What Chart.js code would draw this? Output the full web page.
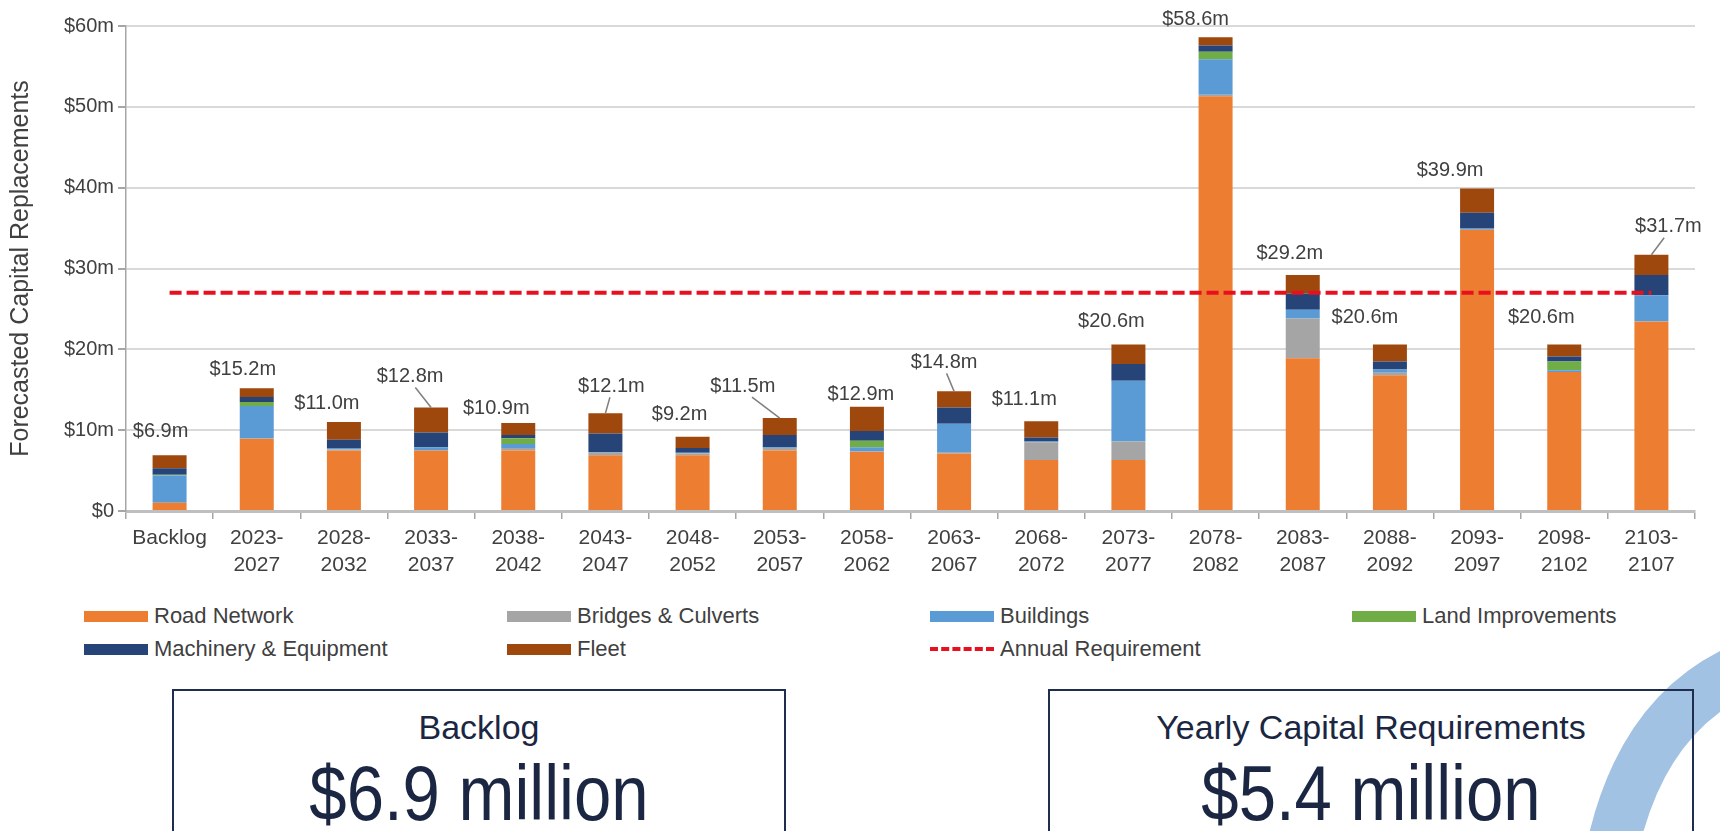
<!DOCTYPE html>
<html>
<head>
<meta charset="utf-8">
<script src="https://cdn.jsdelivr.net/npm/chart.js@4.4.0/dist/chart.umd.min.js"></script>
<style>
    html, body { margin: 0; padding: 0; background: #fff; overflow: hidden; }
    body { width: 1720px; height: 831px; position: relative; font-family: "Liberation Sans", Arial, sans-serif; }
    #chartWrap { position: absolute; left: 0; top: 0; width: 1720px; height: 600px; }
    #legend { position: absolute; left: 0; top: 600px; width: 1720px; height: 70px; }
    .lg-item { position: absolute; display: flex; align-items: center; font-size: 22px; color: #404040; white-space: nowrap; }
    .lg-swatch { width: 64px; height: 11px; margin-right: 6px; }
    .lg-dash { width: 64px; height: 0; border-top: 4px dashed #e8101e; margin-right: 6px; }
    #arc { position: absolute; left: 0; top: 0; }
    .box { position: absolute; top: 689px; height: 170px; border: 2px solid #1f2d4f; text-align: center; color: #1b2742; }
    .box .head { font-size: 34px; margin-top: 16px; line-height: 40px; }
    .box .big { font-size: 78px; line-height: 80px; margin-top: 6px; transform: scaleX(0.86); }
</style>
</head>
<body>
<svg id="arc" width="1720" height="831">
    <path d="M 1612 850 Q 1642 712 1745 668" stroke="#a2c2e3" stroke-width="52" fill="none"/>
</svg>
<div id="chartWrap"><canvas id="capChart" width="1720" height="600"></canvas></div>
<div id="legend"></div>
<div class="box" style="left:172px;width:610px;">
    <div class="head">Backlog</div>
    <div class="big">$6.9 million</div>
</div>
<div class="box" style="left:1048px;width:642px;">
    <div class="head">Yearly Capital Requirements</div>
    <div class="big">$5.4 million</div>
</div>
<script>
// five-year replacement buckets ($ millions)
const categories = ['Backlog', ['2023-', '2027'], ['2028-', '2032'], ['2033-', '2037'], ['2038-', '2042'],
    ['2043-', '2047'], ['2048-', '2052'], ['2053-', '2057'], ['2058-', '2062'], ['2063-', '2067'],
    ['2068-', '2072'], ['2073-', '2077'], ['2078-', '2082'], ['2083-', '2087'], ['2088-', '2092'],
    ['2093-', '2097'], ['2098-', '2102'], ['2103-', '2107']];

const roadNetwork      = [1.0, 8.9, 7.5, 7.5, 7.5, 6.9, 6.9, 7.5, 7.3, 7.1, 6.3, 6.3, 51.3, 18.9, 16.8, 34.8, 17.2, 23.4];
const bridgesCulverts  = [0.1, 0.1, 0.1, 0.0, 0.3, 0.3, 0.2, 0.3, 0.1, 0.1, 2.2, 2.3, 0.2, 4.9, 0.3, 0.0, 0.0, 0.1];
const buildings        = [3.3, 4.0, 0.2, 0.4, 0.5, 0.1, 0.1, 0.1, 0.5, 3.6, 0.1, 7.5, 4.4, 1.1, 0.4, 0.2, 0.2, 3.2];
const landImprovements = [0.1, 0.5, 0.0, 0.0, 0.7, 0.0, 0.0, 0.0, 0.8, 0.0, 0.0, 0.0, 0.9, 0.0, 0.0, 0.0, 1.1, 0.0];
const machineryEquip   = [0.8, 0.6, 1.0, 1.8, 0.4, 2.3, 0.6, 1.5, 1.2, 2.0, 0.5, 2.1, 0.8, 2.0, 1.0, 1.9, 0.6, 2.5];
const fleet            = [1.6, 1.1, 2.2, 3.1, 1.5, 2.5, 1.4, 2.1, 3.0, 2.0, 2.0, 2.4, 1.0, 2.3, 2.1, 3.0, 1.5, 2.5];
const annualRequirement = [27, 27, 27, 27, 27, 27, 27, 27, 27, 27, 27, 27, 27, 27, 27, 27, 27, 27];

const yTickLabels = ['$0', '$10m', '$20m', '$30m', '$40m', '$50m', '$60m'];

// where each total label sits relative to the top of its stack (px), and which ones get a pointer line
const labelOffsets = [[-9, -24], [-14, -19], [-17, -19], [-21, -31], [-22, -14], [6, -27], [-13, -22], [-37, -32], [-6, -12],
    [-10, -29], [-17, -22], [-17, -23], [-20, -18], [-13, -21], [-25, -27], [-27, -18], [-23, -27], [17, -28]];
const leaderLines = [3, 5, 7, 9, 17];

const FONT = '"Liberation Sans", Arial, sans-serif';

const totalLabels = {
    id: 'totalLabels',
    afterDatasetsDraw(chart) {
        const ctx = chart.ctx;
        const barSets = chart.data.datasets.filter(d => d.type !== 'line');
        const topMeta = chart.getDatasetMeta(barSets.length - 1);
        ctx.save();
        ctx.font = '20px ' + FONT;
        ctx.fillStyle = '#404040';
        ctx.textAlign = 'center';
        ctx.textBaseline = 'middle';
        categories.forEach((c, i) => {
            let total = 0;
            barSets.forEach(d => total += d.data[i]);
            const bar = topMeta.data[i];
            const lx = bar.x + labelOffsets[i][0], ly = bar.y + labelOffsets[i][1];
            ctx.fillText('$' + total.toFixed(1) + 'm', lx, ly);
            if (leaderLines.includes(i)) {
                ctx.strokeStyle = '#7f7f7f';
                ctx.lineWidth = 1.5;
                ctx.beginPath();
                ctx.moveTo(lx + (bar.x - lx) * 0.25, ly + 11);
                ctx.lineTo(bar.x, bar.y);
                ctx.stroke();
            }
        });
        ctx.restore();
    }
};

const barSet = (label, data, color) => ({
    label: label, data: data, backgroundColor: color, borderWidth: 0,
    stack: 'assets', order: 1, barPercentage: 0.39, categoryPercentage: 1
});

const myChart = new Chart(document.getElementById('capChart'), {
    type: 'bar',
    data: {
        labels: categories,
        datasets: [
            barSet('Road Network', roadNetwork, '#ed7d31'),
            barSet('Bridges & Culverts', bridgesCulverts, '#a5a5a5'),
            barSet('Buildings', buildings, '#5b9bd5'),
            barSet('Land Improvements', landImprovements, '#70ad47'),
            barSet('Machinery & Equipment', machineryEquip, '#264478'),
            barSet('Fleet', fleet, '#9e480e'),
            {
                type: 'line', label: 'Annual Requirement', data: annualRequirement,
                borderColor: '#e8101e', borderWidth: 4, borderDash: [12, 5],
                pointRadius: 0, fill: false, stack: 'req', order: 0
            }
        ]
    },
    options: {
        responsive: false,
        animation: false,
        layout: {padding: {top: 26, right: 25, left: 0, bottom: 0}},
        plugins: {legend: {display: false}, tooltip: {enabled: false}},
        scales: {
            x: {
                stacked: true,
                afterFit: s => { s.height = 89; },
                grid: {drawOnChartArea: false, drawTicks: true, tickLength: 8, color: '#a6a6a6', lineWidth: 1.5},
                border: {color: '#bfbfbf', width: 3},
                ticks: {font: {family: FONT, size: 21, lineHeight: 1.28}, color: '#404040', padding: 6, maxRotation: 0, autoSkip: false}
            },
            y: {
                stacked: true,
                min: 0, max: 60,
                afterFit: s => { s.width = 126; },
                grid: {color: '#d9d9d9', lineWidth: 2, tickLength: 8, tickColor: '#a6a6a6'},
                border: {color: '#a6a6a6', width: 1.5},
                ticks: {
                    stepSize: 10, padding: 4, color: '#404040', font: {family: FONT, size: 20},
                    callback: (v, idx) => yTickLabels[idx]
                },
                title: {display: true, text: 'Forecasted Capital Replacements', color: '#404040',
                    font: {family: FONT, size: 25}, padding: {top: 6, bottom: 0}}
            }
        }
    },
    plugins: [totalLabels]
});

// legend laid out in four fixed columns, two rows
const $legend = document.getElementById('legend');
const legendCols = [84, 507, 930, 1352], legendRows = [16, 49];
myChart.data.datasets.forEach((d, i) => {
    const item = document.createElement('div');
    item.className = 'lg-item';
    item.style.left = legendCols[i % 4] + 'px';
    item.style.top = (legendRows[Math.floor(i / 4)] - 13) + 'px';
    const sw = document.createElement('span');
    if (d.type === 'line') {
        sw.className = 'lg-dash';
        sw.style.borderTopColor = d.borderColor;
    } else {
        sw.className = 'lg-swatch';
        sw.style.background = d.backgroundColor;
    }
    item.appendChild(sw);
    item.appendChild(document.createTextNode(d.label));
    $legend.appendChild(item);
});
</script>
</body>
</html>
